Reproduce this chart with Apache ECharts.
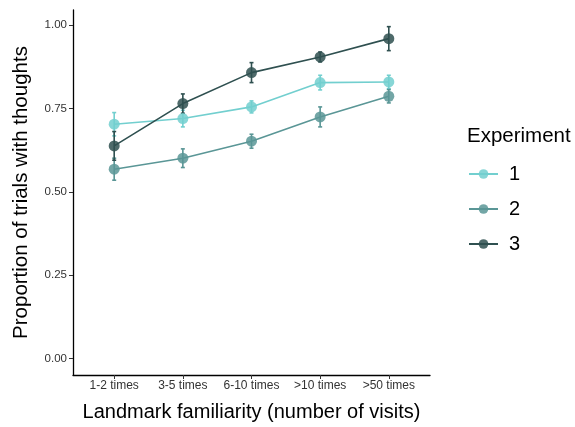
<!DOCTYPE html>
<html>
<head>
<meta charset="utf-8">
<script src="https://cdn.jsdelivr.net/npm/echarts@6/dist/echarts.min.js"></script>
<style>html,body{margin:0;padding:0;background:#fff}#c{width:575px;height:427px}</style>
</head>
<body>
<div id="c"></div>
<script>
var categories = ['1-2 times', '3-5 times', '6-10 times', '>10 times', '>50 times'];
var experiments = ['1', '2', '3'];
var exp1 = [0.703, 0.720, 0.755, 0.828, 0.830];
var exp2 = [0.568, 0.601, 0.652, 0.725, 0.787];
var exp3 = [0.638, 0.765, 0.858, 0.905, 0.960];
var err1 = [0.035, 0.025, 0.018, 0.022, 0.020];
var err2 = [0.033, 0.028, 0.021, 0.030, 0.020];
var err3 = [0.043, 0.029, 0.030, 0.015, 0.036];
var yTicks = [0, 0.25, 0.5, 0.75, 1.0];

var colors = ['#72CFCF', '#5A9696', '#2F5050'];
var means = [exp1, exp2, exp3];
var errs = [err1, err2, err3];
var font = 'Liberation Sans, Arial, Helvetica, sans-serif';

var series = [];
experiments.forEach(function (name, k) {
  series.push({
    name: 'e' + name,
    type: 'custom',
    z: 3,
    data: categories.map(function (c, i) { return [i + 1, means[k][i] - errs[k][i], means[k][i] + errs[k][i]]; }),
    renderItem: function (params, api) {
      var lo = api.coord([api.value(0), api.value(1)]);
      var hi = api.coord([api.value(0), api.value(2)]);
      var w = 2;
      var st = { stroke: colors[k], lineWidth: 1.6 };
      return { type: 'group', children: [
        { type: 'line', shape: { x1: lo[0], y1: lo[1], x2: hi[0], y2: hi[1] }, style: st },
        { type: 'line', shape: { x1: lo[0] - w, y1: lo[1], x2: lo[0] + w, y2: lo[1] }, style: st },
        { type: 'line', shape: { x1: hi[0] - w, y1: hi[1], x2: hi[0] + w, y2: hi[1] }, style: st }
      ] };
    },
    silent: true
  });
  series.push({
    name: name,
    type: 'line',
    z: 4,
    data: categories.map(function (c, i) { return [i + 1, means[k][i]]; }),
    symbol: 'circle',
    symbolSize: 11,
    itemStyle: { color: colors[k], opacity: 0.85 },
    lineStyle: { color: colors[k], width: 1.6 },
    emphasis: { disabled: true },
    animation: false
  });
});

var chart = echarts.init(document.getElementById('c'));
chart.setOption({
  animation: false,
  backgroundColor: '#fff',
  title: {
    text: 'Experiment', left: 462, top: 121,
    textStyle: { fontFamily: font, fontSize: 20.5, fontWeight: 'normal', color: '#000' }
  },
  legend: {
    data: experiments,
    orient: 'vertical',
    left: 463, top: 159,
    itemWidth: 29, itemHeight: 12,
    itemGap: 15,
    textStyle: { fontFamily: font, fontSize: 20, color: '#000', padding: [0, 0, 0, 6] }
  },
  grid: { left: 73, right: 145, top: 10, bottom: 52, containLabel: false },
  xAxis: {
    type: 'value', min: 0.4, max: 5.6,
    name: 'Landmark familiarity (number of visits)',
    nameLocation: 'middle', nameGap: 27,
    nameTextStyle: { fontFamily: font, fontSize: 20, color: '#000' },
    splitLine: { show: false },
    axisLine: { onZero: false, lineStyle: { color: '#000', width: 1.3 } },
    axisTick: { show: true, length: 4, lineStyle: { color: '#333', width: 1 }, customValues: [1, 2, 3, 4, 5] },
    axisLabel: {
      customValues: [1, 2, 3, 4, 5],
      formatter: function (v) { return categories[Math.round(v) - 1]; },
      fontFamily: font, fontSize: 12, color: '#333', margin: 5
    }
  },
  yAxis: {
    type: 'value', min: -0.05, max: 1.046,
    name: 'Proportion of trials with thoughts',
    nameLocation: 'middle', nameGap: 41,
    nameTextStyle: { fontFamily: font, fontSize: 20.5, color: '#000' },
    splitLine: { show: false },
    axisLine: { show: true, lineStyle: { color: '#000', width: 1.3 } },
    axisTick: { show: true, length: 4, lineStyle: { color: '#333', width: 1 }, customValues: yTicks },
    axisLabel: {
      customValues: yTicks,
      formatter: function (v) { return v.toFixed(2); },
      fontFamily: font, fontSize: 11.5, color: '#333', margin: 6
    }
  },
  series: series
});
</script>
</body>
</html>
